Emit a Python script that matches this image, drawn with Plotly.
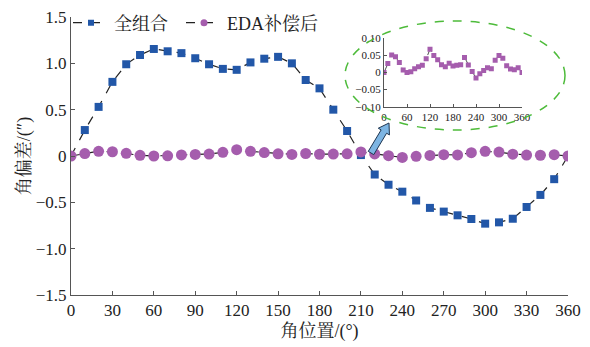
import plotly.graph_objects as go
import math

angles = list(range(0, 361, 10))
full_combo = [0, 0.28, 0.53, 0.80, 0.99, 1.09, 1.155, 1.13, 1.11, 1.055, 0.99, 0.94, 0.93,
              1.01, 1.05, 1.07, 1.00, 0.82, 0.73, 0.50, 0.27, 0.01, -0.20, -0.31, -0.385,
              -0.48, -0.56, -0.60, -0.64, -0.68, -0.73, -0.716, -0.677, -0.55, -0.42, -0.25, 0]
eda_comp = [0, 0.026, 0.051, 0.046, 0.029, 0.007, 0.0, 0.002, 0.011, 0.017, 0.021, 0.04, 0.068,
            0.05, 0.037, 0.023, 0.017, 0.027, 0.019, 0.021, 0.023, 0.044, 0.022, 0.003, -0.016,
            -0.004, 0.006, 0.014, 0.011, 0.036, 0.05, 0.042, 0.02, 0.01, 0.008, 0.014, 0]

x_ticks = list(range(0, 361, 30))
y_ticks = [-1.5, -1.0, -0.5, 0, 0.5, 1.0, 1.5]
y_ticktext = ["−1.5", "−1.0", "−0.5", "0", "0.5", "1.0", "1.5"]
inset_x_ticks = list(range(0, 361, 60))
inset_y_ticks = [-0.10, -0.05, 0, 0.05, 0.10]
inset_y_ticktext = ["−0.10", "−0.05", "0", "0.05", "0.10"]

names = ["全组合", "EDA补偿后"]
BLUE = "#2257A8"
PURPLE = "#A55DAD"
FONT = "Liberation Serif, Noto Serif CJK SC, Noto Sans CJK SC"

W, H = 590, 347
L, R, T, B = 71, 22, 17, 52
pw, ph = W - L - R, H - T - B


def px(x):
    return (x - L) / pw


def py(y):
    return (H - B - y) / ph


fig = go.Figure()
fig.add_trace(go.Scatter(
    x=angles, y=full_combo, name=names[0], mode="lines+markers", showlegend=False,
    line=dict(color="#222222", width=1.2, dash="dash"),
    marker=dict(symbol="square", size=8, color=BLUE),
    xaxis="x", yaxis="y"))
fig.add_trace(go.Scatter(
    x=angles, y=eda_comp, name=names[1], mode="lines+markers", showlegend=False,
    line=dict(color="#222222", width=1.2, dash="dash"),
    marker=dict(symbol="circle", size=11, color=PURPLE),
    xaxis="x", yaxis="y"))
# legend entries with small symbols
fig.add_trace(go.Scatter(
    x=[None], y=[None], name=names[0], mode="lines+markers", legend="legend",
    line=dict(color="#222222", width=1.2, dash="dash"),
    marker=dict(symbol="square", size=6, color=BLUE)))
fig.add_trace(go.Scatter(
    x=[None], y=[None], name=names[1], mode="lines+markers", legend="legend2",
    line=dict(color="#222222", width=1.2, dash="dash"),
    marker=dict(symbol="circle", size=7, color=PURPLE)))
fig.add_trace(go.Scatter(
    x=angles, y=eda_comp, showlegend=False, mode="lines+markers",
    line=dict(color="#222222", width=0.8, dash="dash"),
    marker=dict(symbol="square", size=5, color=PURPLE),
    xaxis="x2", yaxis="y2"))

axis_common = dict(showline=True, linecolor="#555555", linewidth=1, showgrid=False,
                   zeroline=False, ticks="inside", tickcolor="#555555", mirror=False,
                   automargin=False)

legend_common = dict(orientation="h", y=py(23), xanchor="left", yanchor="middle",
                     bgcolor="rgba(0,0,0,0)", font=dict(size=18), itemwidth=36,
                     tracegroupgap=0)

fig.update_layout(
    width=W, height=H,
    margin=dict(l=L, r=R, t=T, b=B, autoexpand=False),
    paper_bgcolor="white", plot_bgcolor="rgba(0,0,0,0)",
    font=dict(family=FONT, size=17, color="#222222"),
    showlegend=True,
    legend=dict(x=px(68), **legend_common),
    legend2=dict(x=px(181), **legend_common),
    xaxis=dict(range=[0, 360], tickvals=x_ticks, ticklen=4,
               title=dict(text="角位置/(°)", font=dict(size=18), standoff=4),
               **axis_common),
    yaxis=dict(range=[-1.5, 1.5], tickvals=y_ticks, ticktext=y_ticktext, ticklen=4,
               title=dict(text="角偏差/(″)", font=dict(size=18), standoff=0),
               **axis_common),
    xaxis2=dict(domain=[px(384), px(522)], anchor="y2", range=[0, 360],
                tickvals=inset_x_ticks, ticklen=3, tickfont=dict(size=11),
                **axis_common),
    yaxis2=dict(domain=[py(106.7), py(38.3)], anchor="x2", range=[-0.10, 0.10],
                tickvals=inset_y_ticks, ticktext=inset_y_ticktext, ticklen=3,
                tickfont=dict(size=11), **axis_common),
)

# dashed green ellipse around the inset
fig.add_shape(type="circle", xref="paper", yref="paper",
              x0=px(345), x1=px(565), y0=py(130), y1=py(21),
              line=dict(color="#4DBB3A", width=1.5, dash="dash"))

# block arrow pointing to the inset
tail = (371, 153)
tip = (389, 123)
dx, dy = tip[0] - tail[0], tip[1] - tail[1]
ln = math.hypot(dx, dy)
ux, uy = dx / ln, dy / ln
nx, ny = -uy, ux
shaft_w, head_w, head_l = 3.2, 6.5, 10
bx, by = tip[0] - ux * head_l, tip[1] - uy * head_l
pts = [
    (tail[0] + nx * shaft_w, tail[1] + ny * shaft_w),
    (bx + nx * shaft_w, by + ny * shaft_w),
    (bx + nx * head_w, by + ny * head_w),
    tip,
    (bx - nx * head_w, by - ny * head_w),
    (bx - nx * shaft_w, by - ny * shaft_w),
    (tail[0] - nx * shaft_w, tail[1] - ny * shaft_w),
]
path = "M " + " L ".join(f"{px(a):.5f},{py(b):.5f}" for a, b in pts) + " Z"
fig.add_shape(type="path", xref="paper", yref="paper", path=path,
              fillcolor="#7DB5E3", line=dict(color="#1E3550", width=1))

fig.write_html("out.html", config={"displayModeBar": False},
               post_script="document.body.style.margin='0';document.body.style.padding='0';")
